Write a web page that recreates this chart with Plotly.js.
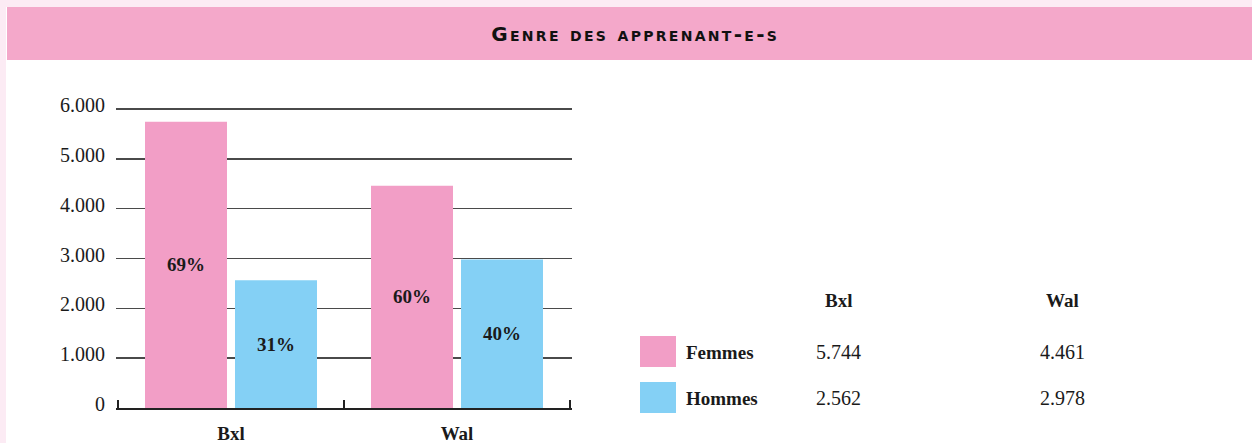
<!DOCTYPE html>
<html>
<head>
<meta charset="utf-8">
<script src="https://cdn.plot.ly/plotly-3.0.1.min.js"></script>
<style>
  html, body { margin: 0; padding: 0; background: #fcebf4; width: 1252px; height: 443px; overflow: hidden; }
  #wrap { position: absolute; left: 6px; top: 7px; width: 1246px; height: 436px; background: #ffffff; }
  #chart { width: 1246px; height: 436px; }
  #chart .gtitle { letter-spacing: 2.3px; }
</style>
</head>
<body>
<div id="wrap"><div id="chart"></div></div>
<script>
// ---- data ----
const chartTitle = "Genre des apprenant-e-s";
const categories = ["Bxl", "Wal"];
const seriesNames = ["Femmes", "Hommes"];
const femmesValues = [5744, 4461];
const hommesValues = [2562, 2978];
const yTickValues = [0, 1000, 2000, 3000, 4000, 5000, 6000];

// ---- style ----
const pink = "#f29ec6";
const blue = "#84d0f5";
const serif = "Liberation Serif, Times New Roman, serif";
const ink = "#1a1a1a";

function pct(a, b) { return categories.map((_, i) => Math.round(100 * a[i] / (a[i] + b[i])) + "%"); }
function fmt(v) { return v.toString().replace(/\B(?=(\d{3})+(?!\d))/g, "."); }

const barText = { family: serif, size: 19, color: ink, weight: "bold" };

// category boundaries for the tick marks on the x axis
const boundaryTicks = categories.map((_, i) => i - 0.5).concat([categories.length - 0.5]);

// x range padded slightly so the end ticks are not clipped
const catPx = 226;              // pixel width of one category
const dx = 2;                   // pixel padding each side
const pad = dx / catPx;
const xRange = [-0.5 - pad, categories.length - 0.5 + pad];

const traces = [
  { type: "bar", name: seriesNames[0], x: categories, y: femmesValues, marker: { color: pink },
    text: pct(femmesValues, hommesValues), textposition: "inside", insidetextanchor: "middle",
    textfont: barText, hoverinfo: "skip" },
  { type: "bar", name: seriesNames[1], x: categories, y: hommesValues, marker: { color: blue },
    text: pct(hommesValues, femmesValues), textposition: "inside", insidetextanchor: "middle",
    textfont: barText, hoverinfo: "skip" },
  // empty helper trace so the tick-only overlay axis is drawn
  { type: "scatter", mode: "markers", x: [null], y: [null], xaxis: "x2", yaxis: "y",
    hoverinfo: "skip", showlegend: false }
];

// table-like legend on the right (pixel offsets from the x=118 / y=0 corner)
const colX = [720, 944];
const headerY = 108;
const rowY = [56, 10];
const rowColors = [pink, blue];
const rowValues = [femmesValues, hommesValues];

const annotations = [];
const shapes = [];

categories.forEach((c, j) => {
  annotations.push({ xref: "paper", yref: "paper", x: 0, y: 0, xshift: colX[j] + dx, yshift: headerY,
    xanchor: "center", yanchor: "middle", showarrow: false, text: c,
    font: { family: serif, size: 19, color: ink, weight: "bold" } });
});
seriesNames.forEach((s, i) => {
  annotations.push({ xref: "paper", yref: "paper", x: 0, y: 0, xshift: 566 + dx, yshift: rowY[i],
    xanchor: "left", yanchor: "middle", showarrow: false, text: s,
    font: { family: serif, size: 19, color: ink, weight: "bold" } });
  categories.forEach((c, j) => {
    annotations.push({ xref: "paper", yref: "paper", x: 0, y: 0, xshift: colX[j] + dx, yshift: rowY[i],
      xanchor: "center", yanchor: "middle", showarrow: false, text: fmt(rowValues[i][j]),
      font: { family: serif, size: 20, color: ink } });
  });
  shapes.push({ type: "rect", xref: "paper", yref: "paper", xsizemode: "pixel", ysizemode: "pixel",
    xanchor: 0, yanchor: 0, x0: 522 + dx, x1: 558 + dx, y0: rowY[i] - 15, y1: rowY[i] + 16,
    fillcolor: rowColors[i], line: { width: 0 } });
});

// title banner
shapes.push({ type: "rect", xref: "paper", yref: "paper", xsizemode: "pixel", ysizemode: "pixel",
  xanchor: 0, yanchor: 1, x0: -111 + dx, x1: 1140 + dx, y0: 47, y1: 108,
  fillcolor: "#f4a8ca", line: { width: 0 }, layer: "below" });

const layout = {
  width: 1246, height: 436,
  margin: { l: 112 - dx, r: 682 - dx, t: 100, b: 35 },
  paper_bgcolor: "#ffffff", plot_bgcolor: "#ffffff",
  separators: ",.",
  showlegend: false,
  barmode: "group", bargap: 0.2035, bargroupgap: 0.0889,
  title: { text: chartTitle, x: 0.505, xanchor: "center", y: 0.937, yanchor: "middle", yref: "container",
    font: { family: "DejaVu Sans, sans-serif", size: 20, color: "#111", weight: "bold", variant: "small-caps" } },
  xaxis: { type: "category", range: xRange, showline: true, linecolor: "#222", linewidth: 1.5,
    ticks: "", showgrid: false, ticklabelstandoff: 8,
    tickfont: { family: serif, size: 19, color: ink, weight: "bold" }, fixedrange: true },
  xaxis2: { type: "linear", overlaying: "x", anchor: "y", side: "bottom", range: xRange,
    tickmode: "array", tickvals: boundaryTicks, showticklabels: false,
    ticks: "inside", ticklen: 8, tickwidth: 1.2, tickcolor: "#222",
    showgrid: false, zeroline: false, showline: false, fixedrange: true },
  yaxis: { range: [0, 6040], tickvals: yTickValues, tickformat: ",d", showgrid: true,
    gridcolor: "#4a4a4a", gridwidth: 1.5, zeroline: false, showline: false, ticks: "",
    ticklabelstandoff: 12 - dx, ticklabelshift: -4,
    tickfont: { family: serif, size: 20, color: ink }, fixedrange: true },
  shapes: shapes,
  annotations: annotations
};

Plotly.newPlot("chart", traces, layout, { displayModeBar: false, staticPlot: true });
</script>
</body>
</html>
